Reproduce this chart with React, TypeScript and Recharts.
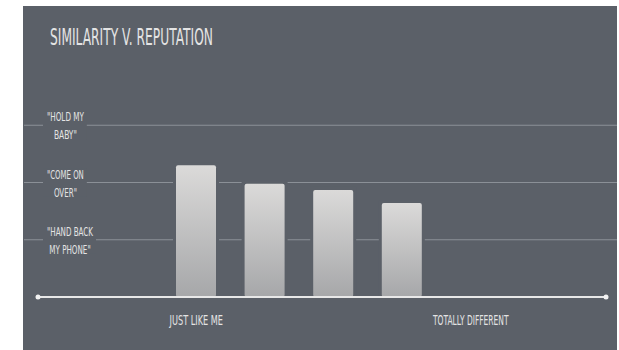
import { BarChart, Bar, XAxis, YAxis, CartesianGrid, ReferenceLine } from 'recharts';

const categories = ['c1', 'c2', 'c3', 'c4', 'c5'];
const reputationValues = [2.3, 1.98, 1.87, 1.64, null];
const xTickLabels = ['JUST LIKE ME', '', '', '', 'TOTALLY DIFFERENT'];
const yTickValues = [1, 2, 3];
const yTickLabels = [
    ['"HAND BACK', 'MY PHONE"'],
    ['"COME ON', 'OVER"'],
    ['"HOLD MY', 'BABY"'],
];
const title = 'SIMILARITY V. REPUTATION';

const data = categories.map((c, i) => ({ name: c, value: reputationValues[i] }));

const SLIDE_BG = '#5b6068';
const TEXT = '#e4e4e4';
const FONT = '"DejaVu Sans", sans-serif';

function XTick(props: any) {
    const { x, y, index } = props;
    const label = xTickLabels[index] || '';
    if (!label) return null;
    return (
        <text
            x={x}
            y={y + 20}
            textAnchor="middle"
            fill={TEXT}
            fontFamily={FONT}
            fontSize={14}
            textLength={label.length * 4.45}
            lengthAdjust="spacingAndGlyphs"
        >
            {label}
        </text>
    );
}

function YTick(props: any) {
    const { y, payload } = props;
    const idx = yTickValues.indexOf(payload.value);
    const lines = yTickLabels[idx] || [];
    if (!lines.length) return null;
    const widths = lines.map((l) => l.length * 4.6);
    const maxW = Math.max(...widths);
    const cx = 24 + maxW / 2;
    return (
        <g>
            <rect x={20} y={y - 14} width={maxW + 7} height={28} fill={SLIDE_BG} />
            {lines.map((l, i) => (
                <text
                    key={i}
                    x={cx}
                    y={y - 4 + i * 18}
                    textAnchor="middle"
                    fill={TEXT}
                    fontFamily={FONT}
                    fontSize={12}
                    textLength={widths[i]}
                    lengthAdjust="spacingAndGlyphs"
                >
                    {l}
                </text>
            ))}
        </g>
    );
}

function BarShape(props: any) {
    const { x, y, width, height } = props;
    if (!height || height <= 0) return null;
    return (
        <g>
            <rect x={x - 3} y={y - 3} width={width + 6} height={height + 3} fill={SLIDE_BG} />
            <rect x={x} y={y} width={width} height={height} rx={2} ry={2} fill="url(#barGrad)" />
        </g>
    );
}

function AxisLineShape(props: any) {
    const { x1, y1, x2 } = props;
    const a = x1 + 14;
    const b = x2 - 11;
    return (
        <g>
            <line x1={a} y1={y1} x2={b} y2={y1} stroke="#e8e8e8" strokeWidth={2} />
            <circle cx={a} cy={y1} r={2.5} fill="#f2f2f2" />
            <circle cx={b} cy={y1} r={2.5} fill="#f2f2f2" />
        </g>
    );
}

export default function App() {
    return (
        <div style={{ position: 'absolute', left: 0, top: 0, width: 619, height: 350, background: '#ffffff', overflow: 'hidden' }}>
            <div style={{ position: 'absolute', left: 23, top: 6, width: 594, height: 344, background: SLIDE_BG }}>
                <svg width={594} height={60} style={{ position: 'absolute', left: 0, top: 0 }}>
                    <text
                        x={27}
                        y={39}
                        fill={TEXT}
                        fontFamily={FONT}
                        fontSize={23}
                        textLength={163}
                        lengthAdjust="spacingAndGlyphs"
                    >
                        {title}
                    </text>
                </svg>
                <div style={{ position: 'absolute', left: 0, top: 0 }}>
                    <BarChart width={594} height={344} data={data} margin={{ top: 62, right: 0, bottom: 0, left: 0 }}>
                        <defs>
                            <linearGradient id="barGrad" x1="0" y1="0" x2="0" y2="1">
                                <stop offset="0%" stopColor="#dbdad9" />
                                <stop offset="100%" stopColor="#a6a7a9" />
                            </linearGradient>
                        </defs>
                        <CartesianGrid
                            horizontal
                            vertical={false}
                            stroke="#8b9097"
                            strokeWidth={1.2}
                            horizontalValues={yTickValues}
                        />
                        <XAxis
                            dataKey="name"
                            height={53}
                            padding={{ left: 138, right: 112 }}
                            axisLine={false}
                            tickLine={false}
                            interval={0}
                            tick={(p: any) => <XTick {...p} />}
                        />
                        <YAxis
                            width={1}
                            domain={[0, 4]}
                            ticks={yTickValues}
                            interval={0}
                            axisLine={false}
                            tickLine={false}
                            tick={(p: any) => <YTick {...p} />}
                        />
                        <Bar dataKey="value" barSize={40} isAnimationActive={false} shape={(p: any) => <BarShape {...p} />} />
                        <ReferenceLine y={0} shape={(p: any) => <AxisLineShape {...p} />} />
                    </BarChart>
                </div>
            </div>
        </div>
    );
}
